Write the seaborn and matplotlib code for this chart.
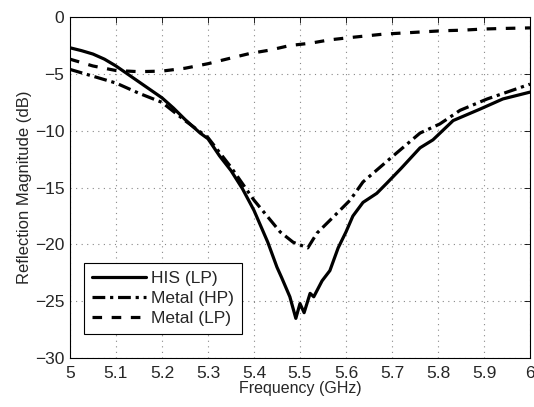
import matplotlib
matplotlib.use("Agg")
import matplotlib.pyplot as plt
import seaborn as sns
import pandas as pd

his_freq = [5.0, 5.025, 5.05, 5.075, 5.1, 5.125, 5.15, 5.175, 5.2, 5.225, 5.25, 5.283, 5.3, 5.325,
            5.35, 5.375, 5.4, 5.43, 5.45, 5.46, 5.478, 5.491, 5.5, 5.509, 5.522, 5.53, 5.548,
            5.565, 5.583, 5.6, 5.615, 5.637, 5.667, 5.689, 5.72, 5.761, 5.789, 5.833, 5.891,
            5.941, 6.0]
his_db = [-2.7, -2.95, -3.25, -3.7, -4.3, -5.0, -5.7, -6.4, -7.1, -8.0, -9.0, -10.2, -10.7, -12.2,
          -13.5, -15.1, -17.0, -19.8, -22.0, -22.9, -24.6, -26.5, -25.2, -26.0, -24.3, -24.6, -23.2,
          -22.3, -20.3, -18.9, -17.5, -16.3, -15.5, -14.6, -13.3, -11.5, -10.8, -9.1, -8.1,
          -7.2, -6.6]

hp_freq = [5.0, 5.05, 5.1, 5.15, 5.2, 5.25, 5.3, 5.35, 5.4, 5.457, 5.485, 5.517, 5.537, 5.572,
           5.609, 5.637, 5.7, 5.761, 5.804, 5.848, 5.907, 5.95, 6.0]
hp_db = [-4.6, -5.2, -5.8, -6.7, -7.5, -9.1, -10.6, -13.2, -16.1, -18.9, -19.8, -20.3, -19.0, -17.6,
         -16.1, -14.5, -12.3, -10.2, -9.4, -8.2, -7.2, -6.6, -5.9]

lp_freq = [5.0, 5.05, 5.1, 5.15, 5.2, 5.25, 5.3, 5.35, 5.391, 5.435, 5.478, 5.522, 5.565, 5.609,
           5.681, 5.724, 5.767, 5.811, 5.854, 5.898, 5.941, 6.0]
lp_db = [-3.7, -4.3, -4.7, -4.8, -4.75, -4.5, -4.1, -3.6, -3.2, -2.9, -2.5, -2.3, -2.0, -1.8,
         -1.5, -1.4, -1.3, -1.2, -1.15, -1.05, -1.0, -0.95]

labels = ["HIS (LP)", "Metal (HP)", "Metal (LP)"]

sns.set_style("white")
plt.rcParams["font.family"] = ["Liberation Sans", "DejaVu Sans"]

fig = plt.figure(figsize=(5.34, 4.07), dpi=100)
ax = fig.add_axes([0.131, 0.120, 0.8615, 0.838])

sns.lineplot(x=his_freq, y=his_db, ax=ax, color="black", lw=2.3, label=labels[0], sort=False)
sns.lineplot(x=hp_freq, y=hp_db, ax=ax, color="black", lw=2.3, label=labels[1], sort=False,
             linestyle=(0, (4, 1.5, 1, 1.5)))
sns.lineplot(x=lp_freq, y=lp_db, ax=ax, color="black", lw=2.3, label=labels[2], sort=False,
             linestyle=(0, (3, 3)))

ax.set_xlim(5, 6)
ax.set_ylim(-30, 0)
ax.set_xticks([5 + 0.1 * i for i in range(11)])
ax.set_xticklabels(["5", "5.1", "5.2", "5.3", "5.4", "5.5", "5.6", "5.7", "5.8", "5.9", "6"])
ax.set_yticks([-30, -25, -20, -15, -10, -5, 0])
ax.set_yticklabels(["\u221230", "\u221225", "\u221220", "\u221215", "\u221210", "\u22125", "0"])
ax.tick_params(direction="in", length=4, labelsize=12.5, top=True, right=True, color="black",
               width=0.6)
ax.tick_params(axis="x", pad=6)
ax.tick_params(axis="y", pad=4)
for s in ax.spines.values():
    s.set_color("black")
    s.set_linewidth(0.8)
ax.grid(True, color="#888888", linestyle=(0, (1, 4)), linewidth=0.8)
ax.set_xlabel("Frequency (GHz)", fontsize=11.5, labelpad=0)
ax.set_ylabel("Reflection Magnitude (dB)", fontsize=12, labelpad=2)

leg = ax.legend(loc="lower left", bbox_to_anchor=(0.012, 0.045), fontsize=12.5, frameon=True,
                fancybox=False, edgecolor="black", framealpha=1, handlelength=3.1,
                borderpad=0.45, labelspacing=0.3, handletextpad=0.3)
leg.get_frame().set_linewidth(0.8)

fig.savefig("out.png", dpi=100)
